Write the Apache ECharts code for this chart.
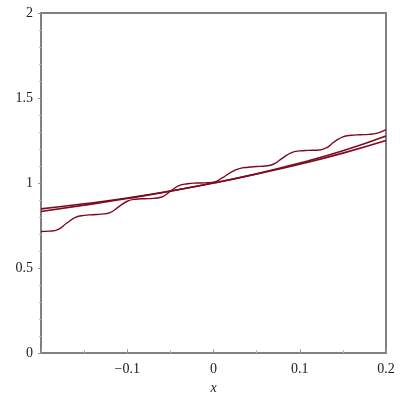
<!DOCTYPE html>
<html>
<head>
<meta charset="utf-8">
<script src="https://cdn.jsdelivr.net/npm/echarts@6/dist/echarts.min.js"></script>
<style>
  html, body { margin: 0; padding: 0; background: #fff; }
  #plot { width: 400px; height: 400px; }
</style>
</head>
<body>
<div id="plot"></div>
<script>
// smooth curves, read at x steps of 0.05
const xSmooth = [-0.2, -0.15, -0.1, -0.05, 0, 0.05, 0.1, 0.15, 0.2];
const lowerSmooth = [0.833, 0.870, 0.909, 0.952, 1.0, 1.053, 1.111, 1.176, 1.25];
const upperSmooth = [0.848, 0.878, 0.912, 0.953, 1.0, 1.054, 1.118, 1.19, 1.277];

// wavy curve, read at x steps of 0.01
const xWavy = [-0.2, -0.19, -0.18, -0.17, -0.16, -0.15, -0.14, -0.13, -0.12, -0.11, -0.1,
  -0.09, -0.08, -0.07, -0.06, -0.05, -0.04, -0.03, -0.02, -0.01, 0,
  0.01, 0.02, 0.03, 0.04, 0.05, 0.06, 0.07, 0.08, 0.09, 0.1,
  0.11, 0.12, 0.13, 0.14, 0.15, 0.16, 0.17, 0.18, 0.19, 0.2];
const wavy = [0.715, 0.717, 0.728, 0.765, 0.798, 0.810, 0.814, 0.817, 0.826, 0.860, 0.893,
  0.905, 0.908, 0.910, 0.918, 0.952, 0.985, 0.996, 1.0, 1.001, 1.005,
  1.030, 1.063, 1.085, 1.093, 1.097, 1.100, 1.112, 1.147, 1.178, 1.189,
  1.192, 1.193, 1.205, 1.242, 1.272, 1.281, 1.284, 1.286, 1.294, 1.314];

const lineColor = "#7d0a1e";
const pairs = (xs, ys) => xs.map((x, i) => [x, ys[i]]);

const chart = echarts.init(document.getElementById("plot"));
chart.setOption({
  animation: false,
  grid: {
    left: 41,
    right: 14,
    top: 13,
    bottom: 44,
    show: true,
    borderColor: "#808080",
    borderWidth: 2,
  },
  xAxis: {
    type: "value",
    min: -0.2,
    max: 0.2,
    interval: 0.1,
    name: "x",
    nameLocation: "middle",
    nameGap: 26,
    nameTextStyle: {
      fontFamily: "Liberation Serif",
      fontStyle: "italic",
      fontSize: 14,
      color: "#222",
    },
    axisLine: { show: true, onZero: false, lineStyle: { color: "#808080", width: 2 } },
    axisTick: { show: true, inside: true, length: 4, lineStyle: { color: "#999" } },
    minorTick: { show: true, splitNumber: 2, length: 3, lineStyle: { color: "#bbb" } },
    splitLine: { show: false },
    axisLabel: {
      fontFamily: "Liberation Serif",
      fontSize: 14,
      color: "#222",
      margin: 9,
      formatter: (v) => {
        const r = Math.round(v * 10) / 10;
        if (r === -0.2) return "";
        return r < 0 ? "\u2212" + Math.abs(r) : String(r);
      },
    },
  },
  yAxis: {
    type: "value",
    min: 0,
    max: 2,
    interval: 0.5,
    axisLine: { show: true, onZero: false, lineStyle: { color: "#808080", width: 2 } },
    axisTick: { show: true, length: 3, lineStyle: { color: "#999" } },
    minorTick: { show: true, splitNumber: 5, length: 2, lineStyle: { color: "#bbb" } },
    splitLine: { show: false },
    axisLabel: {
      fontFamily: "Liberation Serif",
      fontSize: 14,
      color: "#222",
      margin: 8,
    },
  },
  series: [
    {
      type: "line",
      data: pairs(xSmooth, lowerSmooth),
      smooth: true,
      showSymbol: false,
      lineStyle: { color: lineColor, width: 1.6 },
    },
    {
      type: "line",
      data: pairs(xSmooth, upperSmooth),
      smooth: true,
      showSymbol: false,
      lineStyle: { color: lineColor, width: 1.6 },
    },
    {
      type: "line",
      data: pairs(xWavy, wavy),
      smooth: true,
      showSymbol: false,
      lineStyle: { color: lineColor, width: 1.4 },
    },
  ],
});
window.addEventListener("resize", () => {
  chart.resize();
});
</script>
</body>
</html>
